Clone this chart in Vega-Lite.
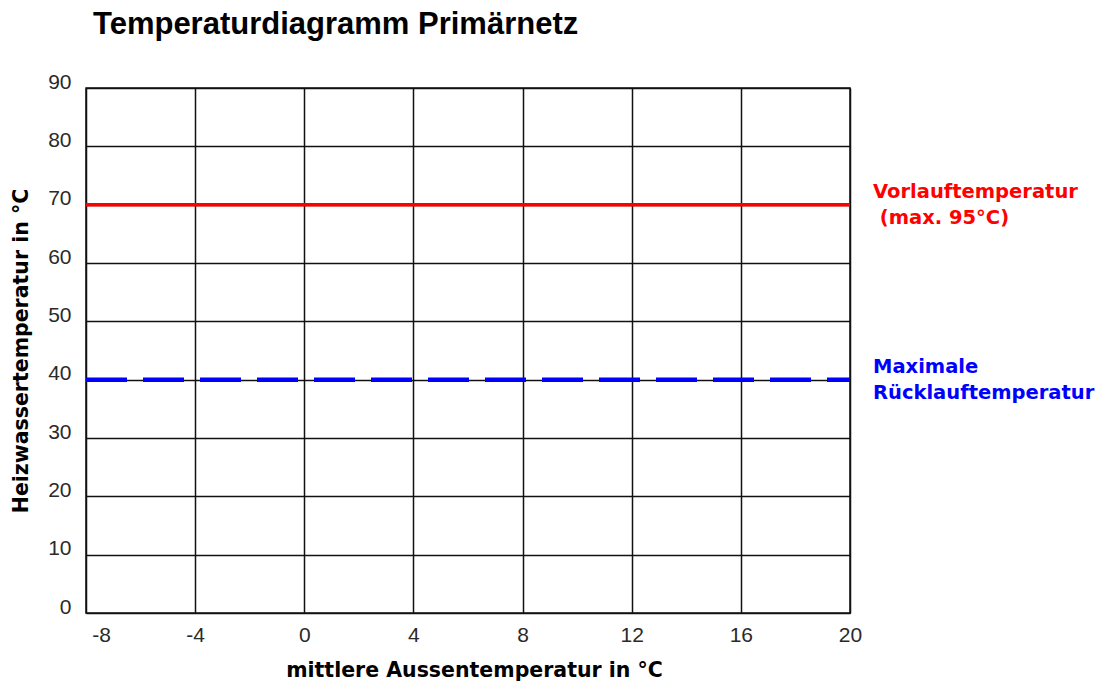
{
  "$schema": "https://vega.github.io/schema/vega-lite/v6.json",
  "autosize": {"type": "none"},
  "width": 764,
  "height": 525,
  "padding": {"left": 86, "top": 88, "right": 249, "bottom": 73},
  "background": "white",
  "title": {
    "text": "Temperaturdiagramm Primärnetz",
    "anchor": "start",
    "frame": "group",
    "dx": 7,
    "offset": 30,
    "font": "Liberation Sans",
    "fontSize": 31,
    "fontWeight": "bold",
    "color": "#000000"
  },
  "config": {
    "view": {"stroke": "#111111", "strokeWidth": 1.5},
    "axis": {
      "labelFont": "Liberation Sans",
      "labelFontSize": 21,
      "labelColor": "#2a2a2a",
      "titleFont": "DejaVu Sans",
      "titleFontSize": 20.5,
      "titleFontWeight": "bold",
      "titleColor": "#000000",
      "gridColor": "#111111",
      "gridWidth": 1.5,
      "gridOpacity": 1,
      "domain": false,
      "ticks": false,
      "tickSize": 0
    }
  },
  "datasets": {
    "lines": [
      {"series": "Vorlauf", "aussen": -8, "temp": 70},
      {"series": "Vorlauf", "aussen": 20, "temp": 70},
      {"series": "Ruecklauf", "aussen": -8, "temp": 40},
      {"series": "Ruecklauf", "aussen": 20, "temp": 40}
    ],
    "labels": [
      {"series": "Vorlauf", "aussen": 20, "temp": 70, "label": "Vorlauftemperatur\n\u200b (max. 95°C)"},
      {"series": "Ruecklauf", "aussen": 20, "temp": 40, "label": "Maximale\nRücklauftemperatur"}
    ]
  },
  "layer": [
    {
      "data": {"name": "lines"},
      "transform": [{"filter": "datum.series === 'Vorlauf'"}],
      "mark": {"type": "line", "color": "#ff0000", "strokeWidth": 3.5, "clip": true},
      "encoding": {
        "x": {
          "field": "aussen",
          "type": "quantitative",
          "scale": {"domain": [-8, 20], "nice": false, "zero": false},
          "axis": {
            "values": [-8, -4, 0, 4, 8, 12, 16, 20],
            "labelFlush": false,
            "labelPadding": 11,
            "labelExpr": "datum.value === -8 ? '\u200b -8' : (datum.value < 0 ? '-' + abs(datum.value) : '' + datum.value)",
            "labelAlign": {"condition": {"test": "datum.value === -8", "value": "left"}, "value": "center"},
            "title": "mittlere Aussentemperatur in °C",
            "titlePadding": 15,
            "titleX": 388
          }
        },
        "y": {
          "field": "temp",
          "type": "quantitative",
          "scale": {"domain": [0, 90], "nice": false, "zero": true},
          "axis": {
            "values": [0, 10, 20, 30, 40, 50, 60, 70, 80, 90],
            "labelBaseline": "alphabetic",
            "labelPadding": 15,
            "title": "Heizwassertemperatur in °C",
            "titlePadding": 16
          }
        }
      }
    },
    {
      "data": {"name": "lines"},
      "transform": [{"filter": "datum.series === 'Ruecklauf'"}],
      "mark": {"type": "line", "color": "#0000ff", "strokeWidth": 4.5, "strokeDash": [41, 16], "clip": true},
      "encoding": {
        "x": {"field": "aussen", "type": "quantitative"},
        "y": {"field": "temp", "type": "quantitative"}
      }
    },
    {
      "data": {"name": "labels"},
      "mark": {
        "type": "text",
        "align": "left",
        "baseline": "alphabetic",
        "dx": 23,
        "dy": -7,
        "font": "DejaVu Sans",
        "fontSize": 19.5,
        "fontWeight": "bold",
        "lineBreak": "\n",
        "lineHeight": 26
      },
      "encoding": {
        "x": {"field": "aussen", "type": "quantitative"},
        "y": {"field": "temp", "type": "quantitative"},
        "text": {"field": "label"},
        "color": {
          "field": "series",
          "type": "nominal",
          "scale": {"domain": ["Vorlauf", "Ruecklauf"], "range": ["#ff0000", "#0000ff"]},
          "legend": null
        }
      }
    }
  ]
}
